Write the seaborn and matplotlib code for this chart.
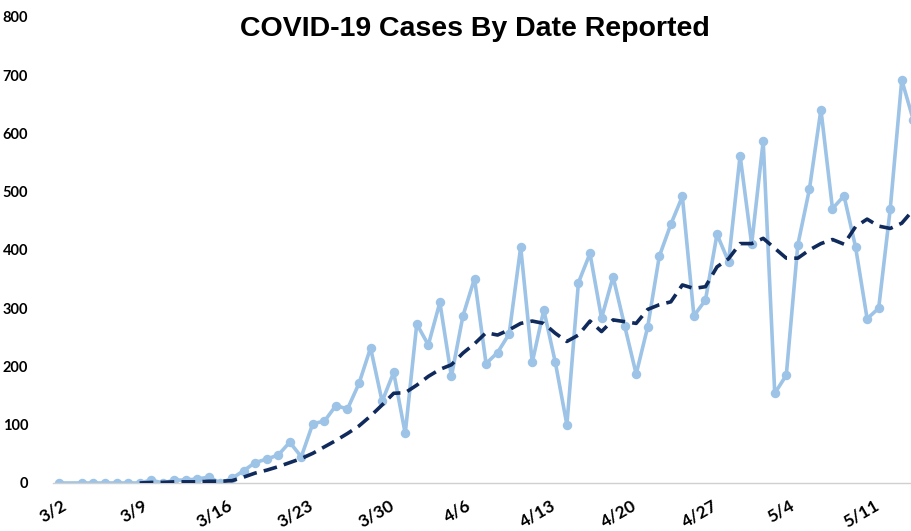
import matplotlib
matplotlib.use('Agg')
import matplotlib.pyplot as plt
import seaborn as sns
import pandas as pd

dates = ['3/2', '3/4', '3/5', '3/6', '3/7', '3/8', '3/9', '3/10', '3/11', '3/12', '3/13', '3/14', '3/15',
         '3/16', '3/17', '3/18', '3/19', '3/20', '3/21', '3/22', '3/23', '3/24', '3/25', '3/26', '3/27',
         '3/28', '3/29', '3/30', '3/31', '4/1', '4/2', '4/3', '4/4', '4/5', '4/6', '4/7', '4/8', '4/9',
         '4/10', '4/11', '4/12', '4/13', '4/14', '4/15', '4/16', '4/17', '4/18', '4/19', '4/20', '4/21',
         '4/22', '4/23', '4/24', '4/25', '4/26', '4/27', '4/28', '4/29', '4/30', '5/1', '5/2', '5/3',
         '5/4', '5/5', '5/6', '5/7', '5/8', '5/9', '5/10', '5/11', '5/12', '5/13', '5/14', '5/15']
cases = [0, 0, 0, 0, 0, 0, 0, 5, 0, 5, 5, 7, 10,
         0, 8, 21, 35, 41, 48, 70, 45, 102, 106, 133, 127,
         171, 232, 140, 190, 85, 273, 237, 310, 183, 287, 351, 205, 224,
         256, 405, 207, 297, 207, 100, 344, 394, 283, 354, 270, 187,
         268, 389, 444, 492, 287, 314, 427, 380, 562, 410, 587, 154,
         185, 409, 504, 641, 471, 493, 405, 282, 300, 470, 692, 623]

# moving average (starts 3/9)
avg_dates = dates[6:]
avg = [0, 1, 1, 2, 2, 2, 3,
       3, 4, 10, 17, 22, 28, 35, 42, 51, 62, 73, 85,
       98, 115, 134, 154, 155, 168, 183, 195, 203, 223, 239, 258, 254,
       263, 274, 278, 274, 257, 243, 254, 278, 260, 280, 277, 274,
       298, 306, 311, 340, 334, 337, 371, 385, 411, 411, 420, 403,
       386, 386, 400, 411, 418, 410, 440, 453, 441, 437, 446, 469]

tick_labels = ['3/2', '3/9', '3/16', '3/23', '3/30', '4/6', '4/13', '4/20', '4/27', '5/4', '5/11']

def to_dt(s):
    return pd.to_datetime(['2020/' + d for d in s], format='%Y/%m/%d')

df = pd.DataFrame({'date': to_dt(dates), 'cases': cases})
df_avg = pd.DataFrame({'date': to_dt(avg_dates), 'avg': avg})

sns.set_style('white')
plt.rcParams['font.family'] = ['Lato', 'DejaVu Sans']

fig = plt.figure(figsize=(9.11, 5.31), dpi=100)
ax = fig.add_axes([0.0582, 0.0904, 0.9418, 0.8776])

sns.lineplot(data=df, x='date', y='cases', ax=ax, color='#9dc3e6', linewidth=2.6,
             marker='o', markersize=6.8, markeredgewidth=0)
sns.lineplot(data=df_avg, x='date', y='avg', ax=ax, color='#102a5c', linewidth=2.6,
             dashes=False, zorder=3)
ax.lines[-1].set_dashes([3.8, 2.0])

half = pd.Timedelta(hours=12)
start = pd.Timestamp('2020-03-02')
ax.set_xlim(start - half, start + pd.Timedelta(days=73.8))
ax.set_ylim(0, 800)

ticks = to_dt(tick_labels) - half
ax.set_xticks(ticks)
ax.set_xticklabels(tick_labels, rotation=30, ha='center', fontsize=12.5, fontweight='bold',
                   color='black')
ax.set_yticks(range(0, 801, 100))
ax.set_yticklabels([str(v) for v in range(0, 801, 100)], fontsize=10.5, fontweight='bold',
                   color='black')
ax.tick_params(axis='x', length=5, width=1, color='#d0d0d0', pad=5)
ax.tick_params(axis='y', length=0, pad=18)

for side in ['top', 'right', 'left']:
    ax.spines[side].set_visible(False)
ax.spines['bottom'].set_color('#d0d0d0')
ax.spines['bottom'].set_linewidth(1)
ax.set_xlabel('')
ax.set_ylabel('')
ax.grid(False)

fig.text(0.521, 0.945, 'COVID-19 Cases By Date Reported', ha='center', va='center',
         fontsize=20.5, fontweight='bold', color='black',
         family=['Liberation Sans', 'DejaVu Sans'])

fig.savefig('out.png', dpi=100)
